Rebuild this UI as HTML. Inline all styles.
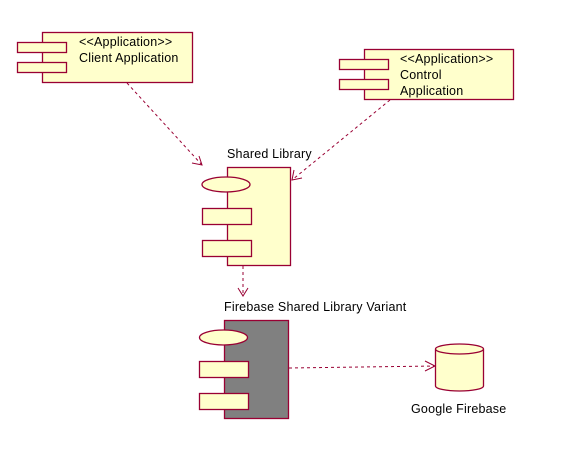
<!DOCTYPE html>
<html><head><meta charset="utf-8"><style>
html,body{margin:0;padding:0;background:#fff;width:583px;height:464px;overflow:hidden}
text{font-family:"Liberation Sans",sans-serif;font-size:12.5px;fill:#000;letter-spacing:0.2px}
</style></head><body>
<svg width="583" height="464" viewBox="0 0 583 464" xmlns="http://www.w3.org/2000/svg">
<g stroke="#990033" stroke-width="1.3" fill="#ffffcc">
<rect x="42.5" y="32.5" width="150" height="50"/>
<rect x="17.5" y="42.5" width="49" height="10"/>
<rect x="17.5" y="62.5" width="49" height="10"/>
<rect x="364.5" y="49.5" width="149" height="50"/>
<rect x="339.5" y="59.5" width="49" height="10"/>
<rect x="339.5" y="79.5" width="49" height="10"/>
<rect x="227.5" y="167.5" width="63" height="98"/>
<ellipse cx="226" cy="184.5" rx="24" ry="7.5"/>
<rect x="202.5" y="208.5" width="49" height="16"/>
<rect x="202.5" y="240.5" width="49" height="16"/>
<rect x="224.5" y="320.5" width="64" height="98" fill="#808080"/>
<ellipse cx="223.5" cy="337.5" rx="24" ry="7.5"/>
<rect x="199.5" y="361.5" width="49" height="16"/>
<rect x="199.5" y="393.5" width="49" height="16"/>
<path d="M435.5 349 L435.5 386 A24 5 0 0 0 483.5 386 L483.5 349 A24 5 0 0 0 435.5 349 A24 5 0 0 0 483.5 349"/>
</g>
<g stroke="#990033" stroke-width="1" fill="none" stroke-dasharray="3,3">
<line x1="127" y1="83" x2="202" y2="165"/>
<line x1="390" y1="100" x2="292" y2="180"/>
<line x1="243" y1="266" x2="243" y2="296"/>
<line x1="289" y1="368" x2="435" y2="366"/>
</g>
<g stroke="#990033" stroke-width="1" fill="none">
<polyline points="192,163 202,165 199,156"/>
<polyline points="294,170 292,180 302,178"/>
<polyline points="238,288 243,296 248,288"/>
<polyline points="425,361 435,366 425,371"/>
</g>
<text x="79" y="46">&lt;&lt;Application&gt;&gt;</text>
<text x="79" y="62">Client Application</text>
<text x="400" y="63">&lt;&lt;Application&gt;&gt;</text>
<text x="400" y="79">Control</text>
<text x="400" y="95">Application</text>
<text x="227" y="158">Shared Library</text>
<text x="224" y="311">Firebase Shared Library Variant</text>
<text x="411" y="413">Google Firebase</text>
</svg>
</body></html>
